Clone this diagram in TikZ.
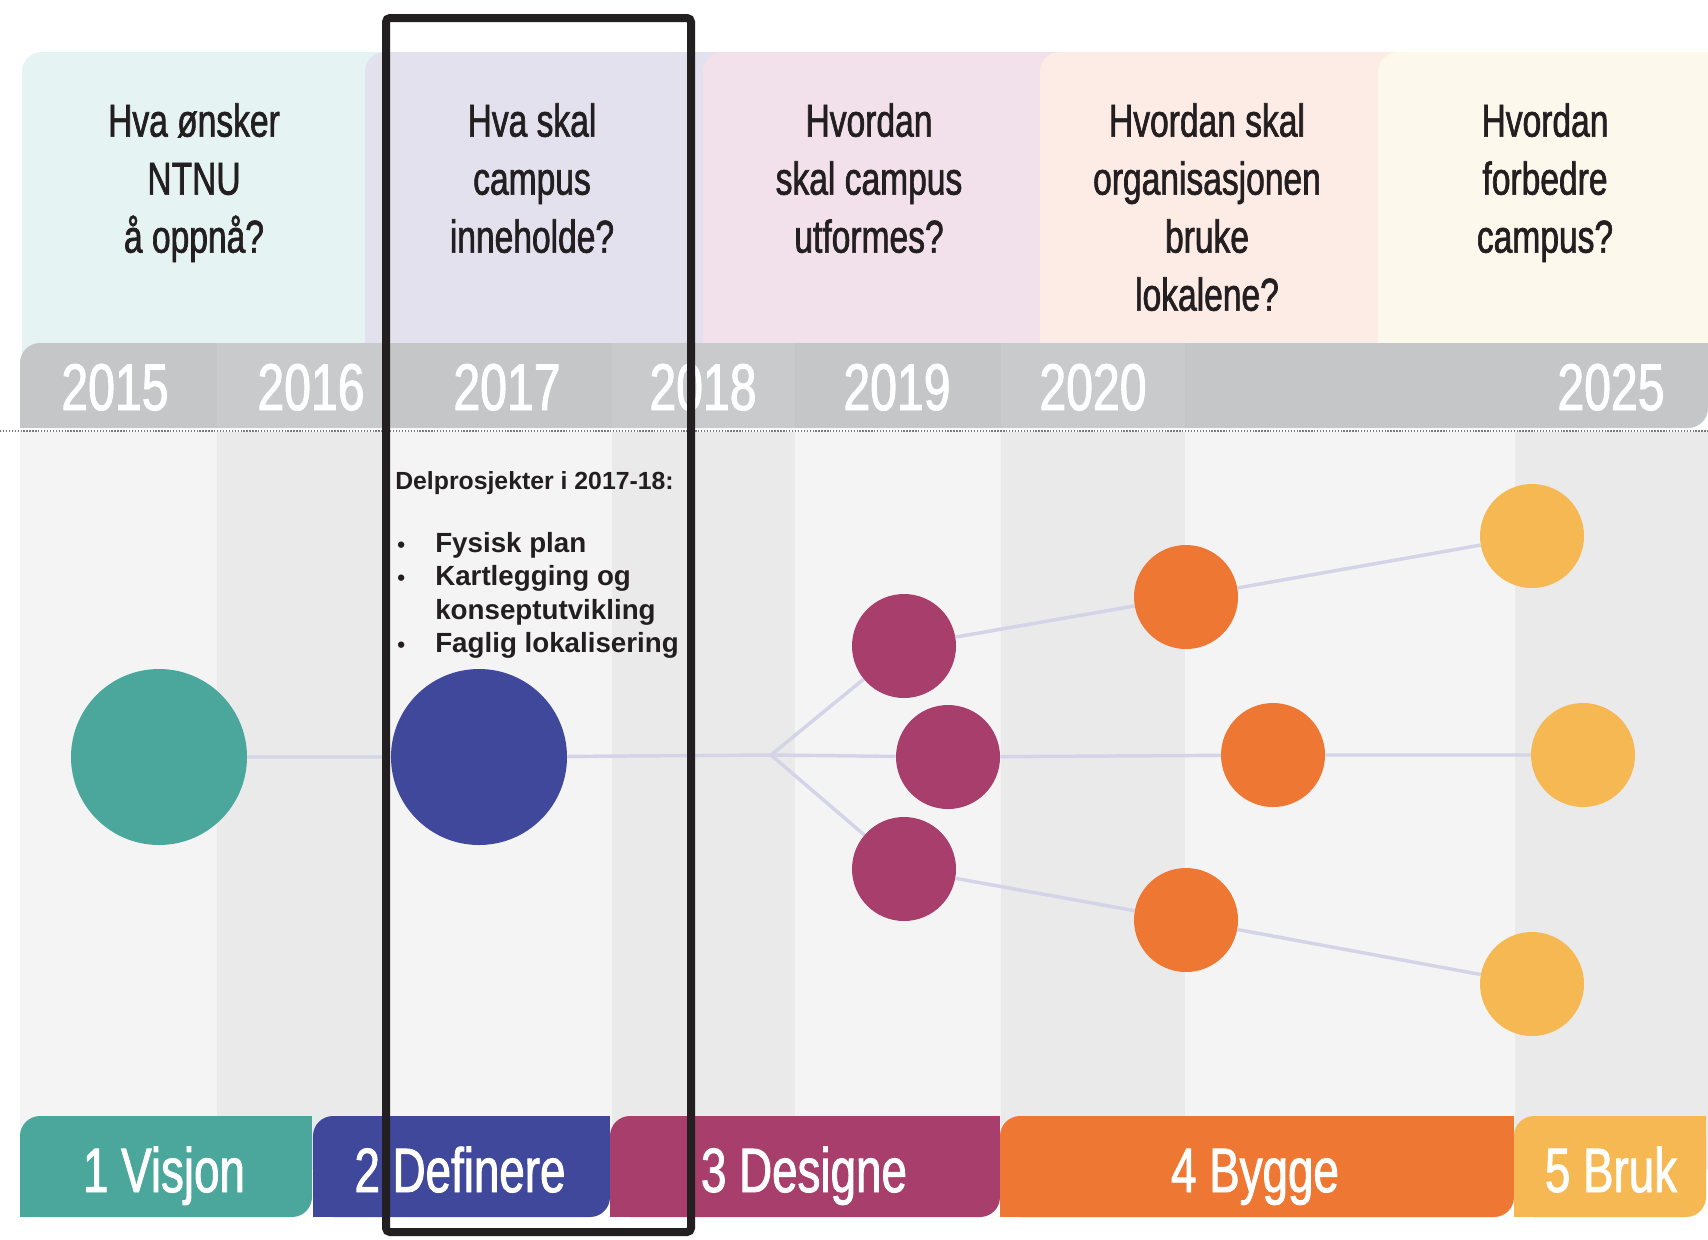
\documentclass[tikz,border=0pt]{standalone}
\usepackage{fontspec}
\setmainfont{Liberation Sans}
\newfontfamily\dinfont[FakeStretch=0.73,FakeBold=1.4]{Liberation Sans}

\definecolor{visjon}{RGB}{75,167,155}
\definecolor{definere}{RGB}{64,72,156}
\definecolor{designe}{RGB}{168,62,107}
\definecolor{bygge}{RGB}{239,119,52}
\definecolor{bruk}{RGB}{246,184,83}
\definecolor{qvisjon}{RGB}{229,243,243}
\definecolor{qdefinere}{RGB}{227,225,238}
\definecolor{qdesigne}{RGB}{242,225,235}
\definecolor{qbygge}{RGB}{253,236,230}
\definecolor{qbruk}{RGB}{253,248,236}
\definecolor{yearbar}{RGB}{196,198,200}
\definecolor{yearbarlight}{RGB}{200,202,204}
\definecolor{stripelight}{RGB}{244,244,244}
\definecolor{stripedark}{RGB}{234,234,234}
\definecolor{linkline}{RGB}{212,212,232}
\definecolor{inkdark}{RGB}{35,31,32}

\pgfdeclarelayer{back}
\pgfdeclarelayer{links}
\pgfsetlayers{back,links,main}

% box with rounded top left and bottom right corner
\newcommand\leafbox[5]{%
  \fill[#1,rounded corners=15pt] (#2,#3) rectangle (#4,#5);
  \fill[#1] (#4,#3) rectangle ++(-22,22);
  \fill[#1] (#2,#5) rectangle ++(22,-22);
}
\newcommand\listdot{\makebox[28.5pt][l]{\scalebox{0.8}{\textbullet}}}

\begin{document}
\begin{tikzpicture}[x=0.75pt,y=0.75pt,yscale=-1,xscale=1,
  question/.style={font={\dinfont\fontsize{34.5pt}{43.5pt}\selectfont},text=inkdark,align=center,anchor=north,inner sep=0pt},
  year/.style={font={\dinfont\fontsize{49.5pt}{50pt}\selectfont},text=white,anchor=base,inner sep=0pt},
  phase/.style={font={\dinfont\fontsize{47pt}{48pt}\selectfont},text=white,anchor=base,inner sep=0pt},
  stage/.style={circle,inner sep=0pt,draw=none},
  bigstage/.style={stage,minimum size=132pt},
  smallstage/.style={stage,minimum size=78pt},
  link/.style={draw=linkline,line width=2.6pt},
  highlight/.style={draw=inkdark,line width=6pt,rounded corners=3pt}]
\useasboundingbox (0,0) rectangle (1708,1239);

\begin{pgfonlayer}{back}
\fill[white] (0,0) rectangle (1708,1239);
%Shape: question panels
\leafbox{qvisjon}{22}{52}{420}{400}
\leafbox{qdefinere}{365}{52}{760}{400}
\leafbox{qdesigne}{703}{52}{1095}{400}
\leafbox{qbygge}{1040}{52}{1430}{400}
\leafbox{qbruk}{1378}{52}{1708}{400}
%Shape: column stripes
\foreach \xa/\xb/\col in {20/217/stripelight,217/390/stripedark,390/612/stripelight,612/795/stripedark,795/1001/stripelight,1001/1185/stripedark,1185/1515/stripelight,1515/1708/stripedark}
  \fill[\col] (\xa,432) rectangle (\xb,1170);
%Shape: year bar
\leafbox{yearbar}{20}{343}{1708}{428}
\foreach \xa/\xb in {217/390,612/795,1001/1185}
  \fill[yearbarlight] (\xa,343) rectangle (\xb,428);
%Straight Lines: dotted rule
\draw[inkdark!60,line width=1.2pt,dash pattern=on 1pt off 1.2pt] (0,431) -- (1708,431);
%Shape: phase tabs
\leafbox{visjon}{20}{1116}{312}{1217}
\leafbox{definere}{313}{1116}{610}{1217}
\leafbox{designe}{610}{1116}{1000}{1217}
\leafbox{bygge}{1000}{1116}{1514}{1217}
\leafbox{bruk}{1514}{1116}{1706}{1217}
\end{pgfonlayer}

%Text: questions
\node[question] (q1) at (194,103) {Hva ønsker\\NTNU\\å oppnå?};
\node[question] (q2) at (532,103) {Hva skal\\campus\\inneholde?};
\node[question] (q3) at (869,103) {Hvordan\\skal campus\\utformes?};
\node[question] (q4) at (1207,103) {Hvordan skal\\organisasjonen\\bruke\\lokalene?};
\node[question] (q5) at (1545,103) {Hvordan\\forbedre\\campus?};

%Text: years
\node[year] (y2015) at (115,410) {2015};
\node[year] (y2016) at (311,410) {2016};
\node[year] (y2017) at (507,410) {2017};
\node[year] (y2018) at (703,410) {2018};
\node[year] (y2019) at (897,410) {2019};
\node[year] (y2020) at (1093,410) {2020};
\node[year] (y2025) at (1611,410) {2025};

%Text: phases
\node[phase] (p1) at (164,1192) {1 Visjon};
\node[phase] (p2) at (460,1192) {2 Definere};
\node[phase] (p3) at (804,1192) {3 Designe};
\node[phase] (p4) at (1255,1192) {4 Bygge};
\node[phase] (p5) at (1611,1192) {5 Bruk};

%Shape: Circles
\node[bigstage,fill=visjon] (vis) at (159,757) {};
\node[bigstage,fill=definere] (def) at (479,757) {};
\coordinate (split) at (771,755);
\node[smallstage,fill=designe] (ds1) at (904,646) {};
\node[smallstage,fill=designe] (ds2) at (948,757) {};
\node[smallstage,fill=designe] (ds3) at (904,869) {};
\node[smallstage,fill=bygge] (bg1) at (1186,597) {};
\node[smallstage,fill=bygge] (bg2) at (1273,755) {};
\node[smallstage,fill=bygge] (bg3) at (1186,920) {};
\node[smallstage,fill=bruk] (br1) at (1532,536) {};
\node[smallstage,fill=bruk] (br2) at (1583,755) {};
\node[smallstage,fill=bruk] (br3) at (1532,984) {};

%Straight Lines
\begin{pgfonlayer}{links}
\draw[link] (vis) -- (def) -- (split) -- (ds2) -- (bg2) -- (br2);
\draw[link] (split) -- (ds1) -- (bg1) -- (br1);
\draw[link] (split) -- (ds3) -- (bg3) -- (br3);
\end{pgfonlayer}

%Text: sub projects
\node[anchor=base west,inner sep=0pt,font={\bfseries\fontsize{18.6pt}{22pt}\selectfont},text=inkdark] (delhead) at (395,489) {Delprosjekter i 2017-18:};
\node[anchor=north west,inner sep=0pt,align=left,font={\bfseries\fontsize{20.8pt}{25pt}\selectfont},text=inkdark] (dellist) at (397,532)
  {\listdot Fysisk plan\\
   \listdot Kartlegging og\\
   \hspace*{28.5pt}konseptutvikling\\
   \listdot Faglig lokalisering};

%Shape: highlight frame
\draw[highlight] (386,18) rectangle (691,1232);

\end{tikzpicture}
\end{document}
